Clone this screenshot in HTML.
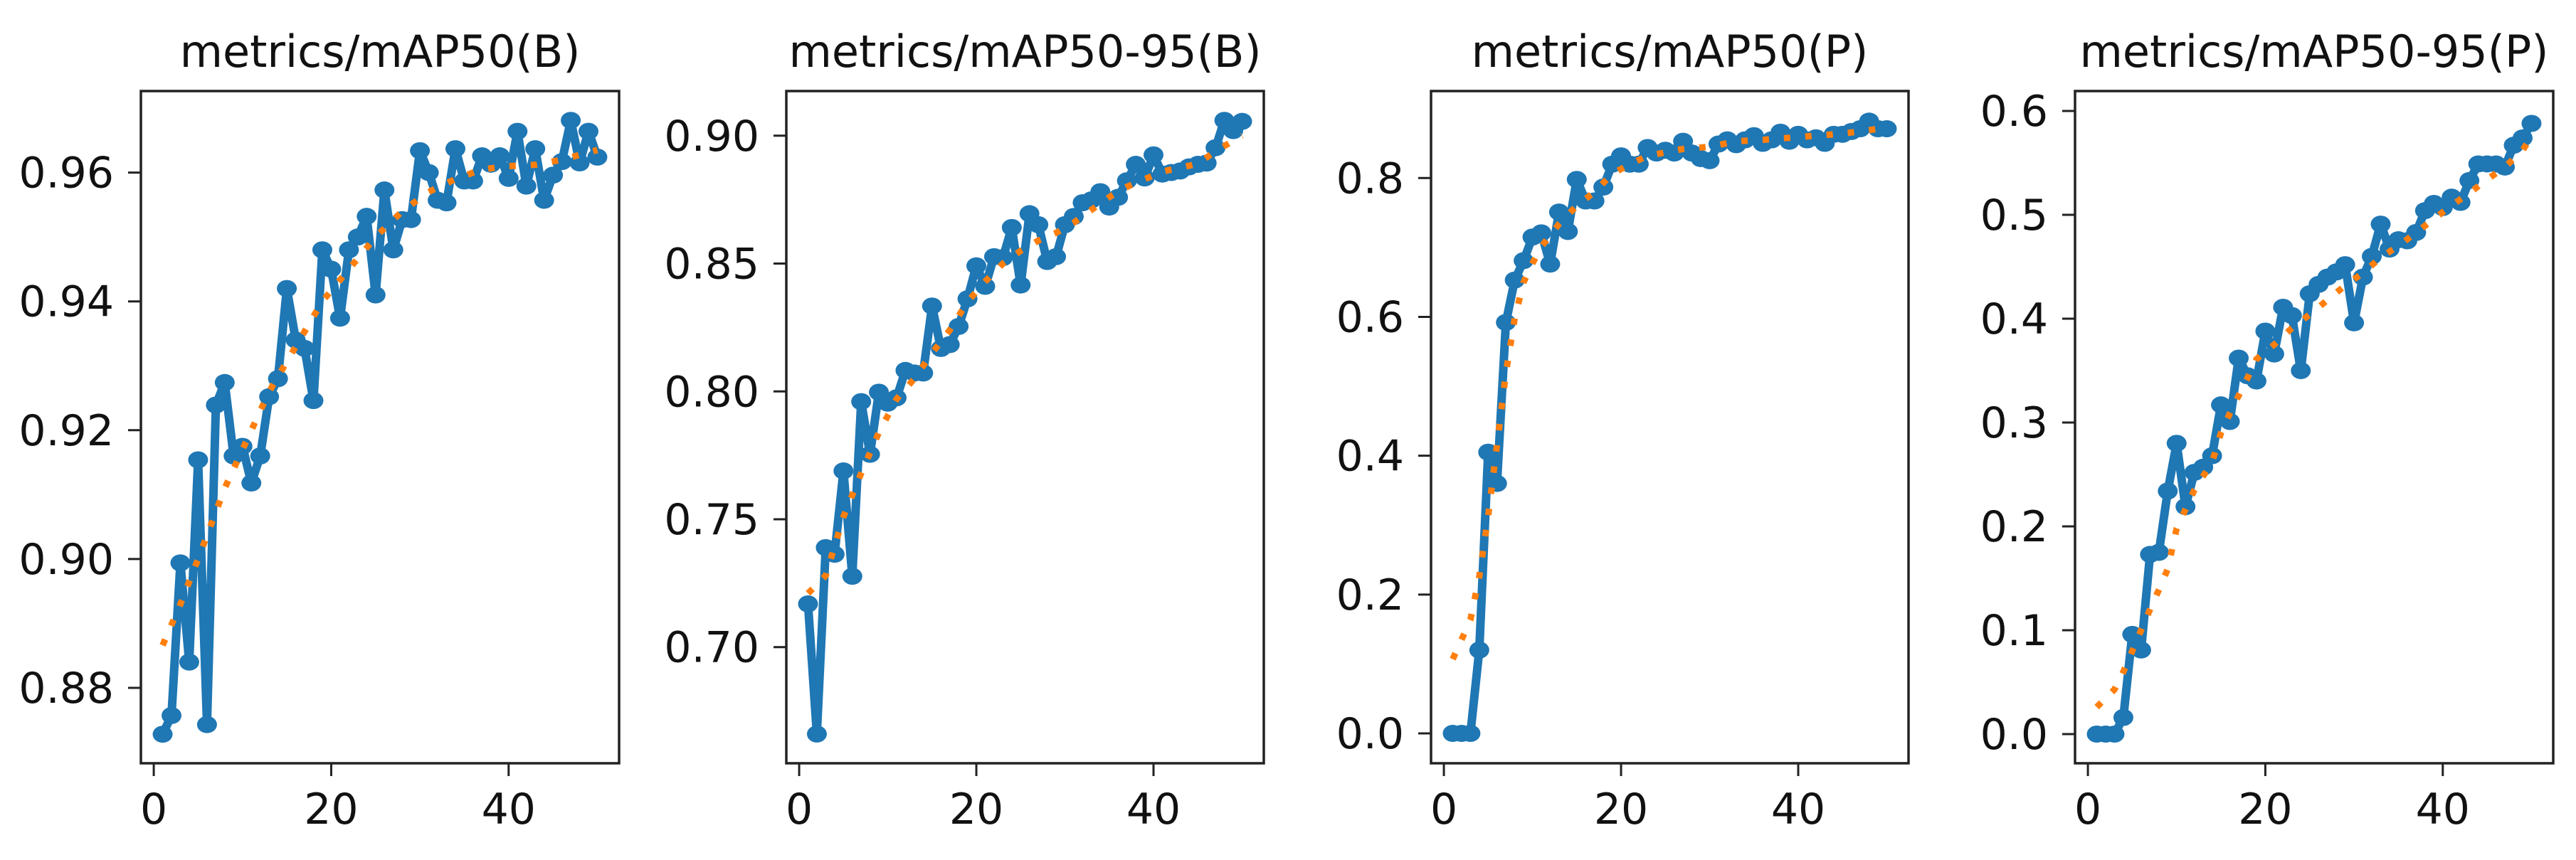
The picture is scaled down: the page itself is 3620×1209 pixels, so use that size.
<!DOCTYPE html>
<html><head><meta charset="utf-8"><style>
html,body{margin:0;padding:0;background:#fff;}
svg{display:block;}
text{font-family:"DejaVu Sans","Liberation Sans",sans-serif;fill:#111;}
</style></head><body>
<svg id="chart" width="3620" height="1209" viewBox="0 0 3620 1209" xmlns="http://www.w3.org/2000/svg"></svg>
<script>
const epochs = Array.from({length:50},(_,i)=>i+1);
const titles = ["metrics/mAP50(B)","metrics/mAP50-95(B)","metrics/mAP50(P)","metrics/mAP50-95(P)"];
const mAP50B = [0.8728,0.8757,0.8994,0.884,0.9154,0.8743,0.9239,0.9274,0.916,0.9175,0.9118,0.916,0.9252,0.928,0.942,0.934,0.9327,0.9246,0.948,0.945,0.9374,0.948,0.950,0.9532,0.941,0.9573,0.948,0.9527,0.9527,0.9634,0.960,0.9557,0.9553,0.9637,0.9587,0.9587,0.9626,0.9613,0.9626,0.9591,0.9664,0.9579,0.9637,0.9557,0.9596,0.9617,0.9681,0.9615,0.9664,0.9624];
const mAP5095B = [0.7169,0.666,0.7389,0.7363,0.7689,0.7277,0.796,0.7754,0.7997,0.7954,0.7975,0.8082,0.8072,0.8072,0.8334,0.8168,0.8183,0.8254,0.8362,0.8491,0.8411,0.8527,0.8523,0.8641,0.8416,0.8695,0.8652,0.8508,0.8527,0.8652,0.8684,0.8738,0.8749,0.8781,0.8721,0.8759,0.8824,0.8888,0.8835,0.8925,0.885,0.8856,0.8862,0.8878,0.8888,0.8893,0.8953,0.906,0.902,0.9056];
const mAP50P = [0,0,0,0.12,0.405,0.36,0.592,0.653,0.681,0.715,0.721,0.676,0.751,0.723,0.798,0.767,0.767,0.787,0.82,0.832,0.82,0.82,0.844,0.836,0.84,0.836,0.853,0.836,0.828,0.825,0.849,0.855,0.848,0.855,0.861,0.85,0.855,0.866,0.853,0.863,0.855,0.858,0.85,0.863,0.863,0.867,0.871,0.882,0.871,0.871];
const mAP5095P = [0,0,0,0.016,0.096,0.081,0.173,0.175,0.234,0.28,0.219,0.252,0.257,0.268,0.317,0.301,0.362,0.345,0.34,0.388,0.366,0.411,0.403,0.35,0.424,0.433,0.44,0.445,0.452,0.396,0.44,0.46,0.491,0.467,0.476,0.475,0.483,0.504,0.511,0.507,0.517,0.512,0.533,0.549,0.549,0.549,0.546,0.567,0.574,0.588];
const smoothX1 = [1,3,5,8,10,13,16,19,22,25,28,31,34,37,40,43,46,50];
const smoothY1 = [0.8866,0.893,0.900,0.911,0.917,0.926,0.933,0.940,0.945,0.950,0.954,0.957,0.959,0.9605,0.961,0.9612,0.962,0.9635];
const smoothX2 = [1,3,5,7,9,11,13,15,17,19,21,23,25,27,29,31,33,35,37,39,41,43,45,47,50];
const smoothY2 = [0.721,0.728,0.751,0.768,0.784,0.797,0.805,0.815,0.824,0.835,0.843,0.850,0.855,0.859,0.862,0.866,0.871,0.876,0.880,0.883,0.886,0.8875,0.889,0.894,0.900];
const smoothX3 = [1,2,3,4,5,6,7,8,9,10,11,13,15,17,19,21,23,25,27,30,33,36,40,44,47,50];
const smoothY3 = [0.107,0.135,0.164,0.226,0.313,0.416,0.519,0.598,0.65,0.677,0.701,0.734,0.760,0.780,0.806,0.82,0.832,0.837,0.842,0.845,0.853,0.855,0.859,0.863,0.867,0.873];
const smoothX4 = [1,3,4,5,6,7,8,9,10,12,14,15,16,17,18,19,21,23,25,27,29,31,33,35,37,39,41,43,45,47,49,50];
const smoothY4 = [0.026,0.043,0.06,0.08,0.1,0.12,0.139,0.159,0.198,0.235,0.262,0.29,0.309,0.326,0.343,0.361,0.375,0.391,0.404,0.418,0.432,0.444,0.459,0.47,0.483,0.496,0.509,0.521,0.534,0.546,0.562,0.576];
const yTicks1 = [0.88,0.90,0.92,0.94,0.96];
const yTicks2 = [0.70,0.75,0.80,0.85,0.90];
const yTicks3 = [0.0,0.2,0.4,0.6,0.8];
const yTicks4 = [0.0,0.1,0.2,0.3,0.4,0.5,0.6];
const xTicks = [0,20,40];

const panels = [
 {L:198,R:870,va:0.96,pa:242.6,vb:0.88,pb:967,ys:mAP50B,sx:smoothX1,sy:smoothY1,yt:yTicks1,dec:2},
 {L:1105,R:1776,va:0.90,pa:190.8,vb:0.70,pb:909.7,ys:mAP5095B,sx:smoothX2,sy:smoothY2,yt:yTicks2,dec:2},
 {L:2011,R:2682,va:0.8,pa:250.3,vb:0.0,pb:1031,ys:mAP50P,sx:smoothX3,sy:smoothY3,yt:yTicks3,dec:1},
 {L:2916,R:3588,va:0.6,pa:156,vb:0.0,pb:1032,ys:mAP5095P,sx:smoothX4,sy:smoothY4,yt:yTicks4,dec:1}
];
const T=128,B=1073;
const NS="http://www.w3.org/2000/svg";
const svg=document.getElementById('chart');
function mk(tag,attrs,parent){const e=document.createElementNS(NS,tag);for(const k in attrs)e.setAttribute(k,attrs[k]);(parent||svg).appendChild(e);return e;}
panels.forEach((p,pi)=>{
  const g=mk('g',{});
  
  
  const xs=e=>p.L+(e+1.45)*(p.R-p.L)/53.9;
  const ysc=v=>p.pa+(p.va-v)*(p.pb-p.pa)/(p.va-p.vb);
  const title=mk('text',{x:(p.L+p.R)/2,y:94,'font-size':62,'text-anchor':'middle'},g);
  title.textContent=titles[pi];
  
  
  p.yt.forEach(v=>{
    const y=ysc(v);
    const tk=mk('line',{x1:p.L-18,x2:p.L,y1:y,y2:y,stroke:'#222','stroke-width':3},g);
    
    
    const t=mk('text',{x:p.L-38,y:y+21,'font-size':60,'text-anchor':'end'},g);
    t.textContent=v.toFixed(p.dec);
    
    
  });
  xTicks.forEach(v=>{
    const x=xs(v);
    const tk=mk('line',{x1:x,x2:x,y1:B,y2:B+18,stroke:'#222','stroke-width':3},g);
    
    
    const t=mk('text',{x:x,y:1158,'font-size':60,'text-anchor':'middle'},g);
    t.textContent=String(v);
    
    
  });
  const d=p.ys.map((v,i)=>(i?'L':'M')+xs(epochs[i]).toFixed(1)+' '+ysc(v).toFixed(1)).join(' ');
  const line=mk('path',{d:d,fill:'none',stroke:'#1f77b4','stroke-width':12,'stroke-linejoin':'round'},g);
  
  
  p.ys.forEach((v,i)=>{
    const c=mk('ellipse',{cx:xs(epochs[i]),cy:ysc(v),rx:14,ry:12,fill:'#1f77b4'},g);
    
    
  });
  const sd=p.sx.map((x,i)=>(i?'L':'M')+xs(x).toFixed(1)+' '+ysc(p.sy[i]).toFixed(1)).join(' ');
  const sm=mk('path',{d:sd,fill:'none',stroke:'#ff7f0e','stroke-width':9,'stroke-dasharray':'9 21'},g);
  
  
  const fr=mk('rect',{x:p.L,y:T,width:p.R-p.L,height:B-T,fill:'none',stroke:'#222','stroke-width':3.5},g);
  
  
});
</script>
</body></html>
